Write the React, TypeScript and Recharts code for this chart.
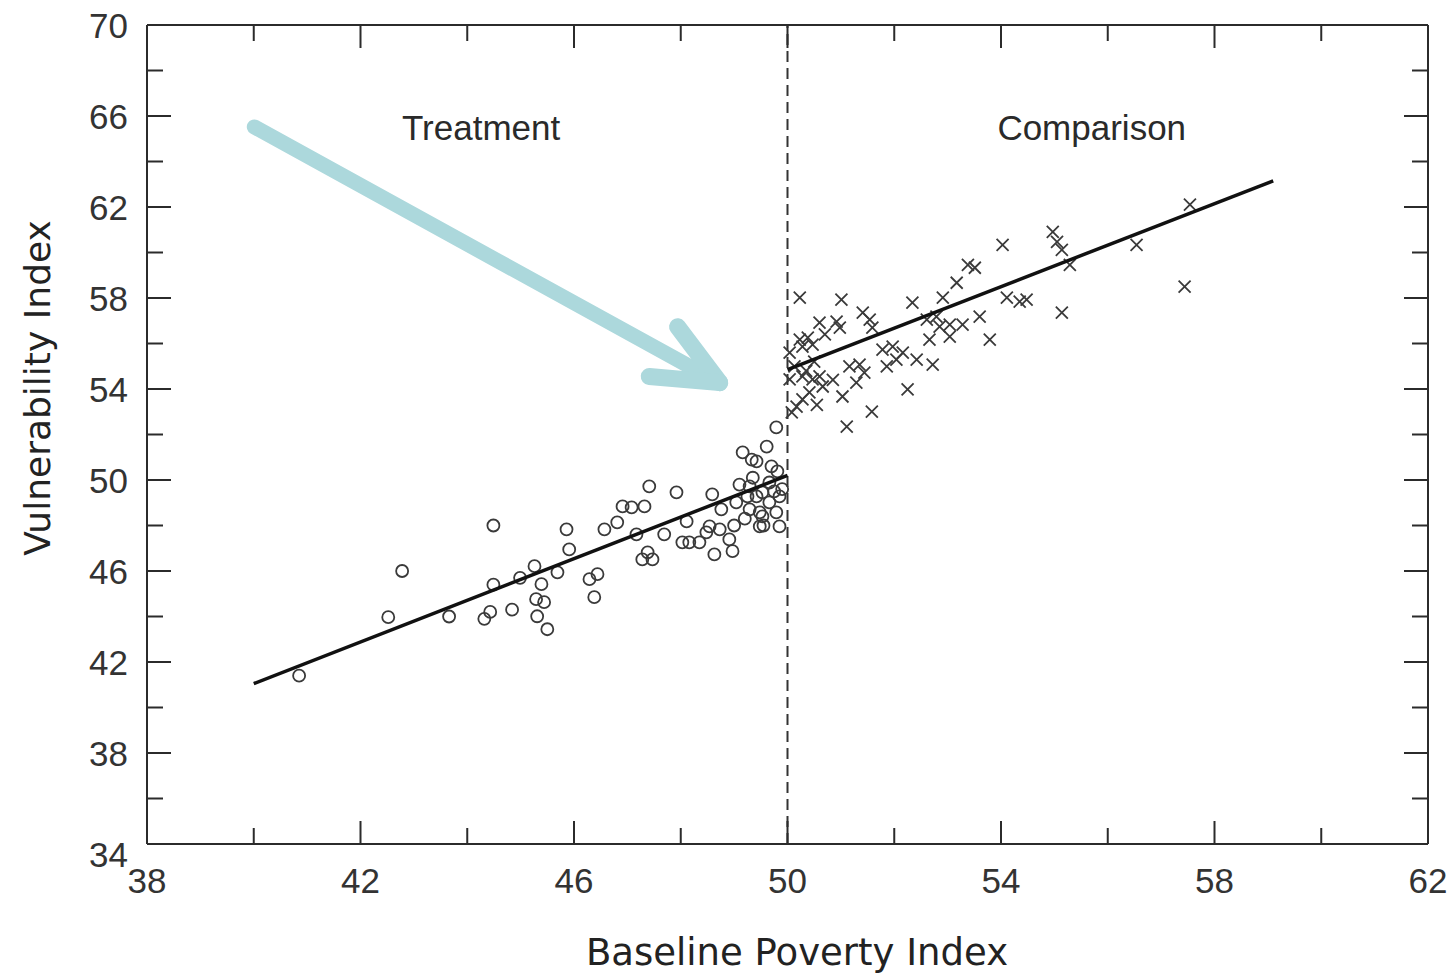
import React from 'react'
import {
  ScatterChart,
  Scatter,
  XAxis,
  YAxis,
  ReferenceLine,
  ReferenceDot,
} from 'recharts'

// tick values (labels every 4, minor ticks every 2)
const xTicks = [38, 40, 42, 44, 46, 48, 50, 52, 54, 56, 58, 60, 62]
const yTicks = [34, 36, 38, 40, 42, 44, 46, 48, 50, 52, 54, 56, 58, 60, 62, 64, 66, 68, 70]

const cutoff = 50

// treatment group (circles)
const treatmentX = [
  40.85, 42.52, 42.78, 43.66, 44.49, 44.49, 44.32, 44.43, 44.84, 44.99, 45.26, 45.39, 45.29, 45.44,
  45.31, 45.5, 45.69, 45.86, 45.91, 46.29, 46.44, 46.38, 46.57, 46.81, 46.91, 47.08, 47.32, 47.41,
  47.17, 47.28, 47.47, 47.38, 47.69, 47.92, 48.03, 48.16, 48.35, 48.11, 48.48, 48.54, 48.59, 48.63,
  48.76, 48.73, 48.97, 48.91, 49.04, 49.16, 49.33, 49.42, 49.61, 49.79, 49.29, 49.42, 49.53, 49.66,
  49.81, 49.29, 49.48, 49.66, 49.85, 49.79, 49.48, 49.85, 49.53, 49.25,
  49.1, 49.35, 49.7, 49.55, 49.2, 49.9, 49.0, 49.75,
]
const treatmentY = [
  41.4, 43.97, 46.0, 44.0, 48.0, 45.4, 43.9, 44.2, 44.3, 45.7, 46.21, 45.42, 44.76, 44.63,
  44.01, 43.44, 45.94, 47.83, 46.95, 45.64, 45.86, 44.85, 47.83, 48.14, 48.84, 48.8, 48.84, 49.72,
  47.61, 46.51, 46.51, 46.82, 47.61, 49.46, 47.26, 47.26, 47.26, 48.18, 47.7, 47.96, 49.37, 46.73,
  48.71, 47.83, 46.87, 47.39, 49.02, 51.21, 50.9, 50.82, 51.47, 52.31, 49.72, 49.28, 49.46, 49.89,
  50.38, 48.71, 48.58, 49.02, 49.28, 48.58, 47.96, 47.96, 48.4, 49.28,
  49.8, 50.1, 50.6, 48.0, 48.3, 49.6, 48.0, 49.5,
]

// comparison group (crosses)
const comparisonX = [
  50.23, 51.01, 50.6, 50.92, 50.98, 51.41, 51.54, 51.59, 50.23, 50.38, 50.28, 50.47, 50.04, 50.13,
  50.04, 50.28, 50.47, 50.6, 50.66, 50.41, 50.17, 50.28, 50.08, 51.16, 51.35, 51.44, 51.29, 51.03,
  51.58, 51.11, 51.78, 51.97, 52.04, 52.16, 51.86, 52.42, 52.72, 52.25, 52.34, 52.61, 52.79, 52.91,
  52.85, 53.04, 53.17, 53.28, 53.6, 53.79, 54.11, 54.35, 52.66, 53.04, 54.03, 54.97, 55.05, 55.14,
  55.29, 56.54, 57.54, 57.44, 54.48, 55.14, 53.38, 53.51,
  50.5, 50.7, 50.35, 50.55, 50.85,
]
const comparisonY = [
  58.02, 57.93, 56.92, 56.96, 56.7, 57.36, 57.05, 56.7, 56.17, 56.26, 55.86, 55.95, 55.6, 54.99,
  54.42, 54.55, 54.42, 54.55, 54.11, 53.85, 53.23, 53.54, 52.97, 54.99, 55.07, 54.72, 54.28, 53.67,
  53.01, 52.35, 55.73, 55.86, 55.29, 55.6, 54.99, 55.29, 55.07, 53.98, 57.8, 57.05, 57.18, 58.02,
  56.74, 56.83, 58.67, 56.83, 57.18, 56.17, 58.02, 57.84, 56.17, 56.3, 60.34, 60.91, 60.47, 60.12,
  59.46, 60.34, 62.1, 58.5, 57.93, 57.36, 59.46, 59.33,
  55.2, 56.4, 54.8, 53.3, 54.4,
]

// fitted lines on each side of the cutoff
const treatmentFitX = [40, 50]
const treatmentFitY = [41.05, 50.2]
const comparisonFitX = [50, 59.1]
const comparisonFitY = [54.85, 63.15]

const treatment = treatmentX.map((x, i) => ({ x, y: treatmentY[i] }))
const comparison = comparisonX.map((x, i) => ({ x, y: comparisonY[i] }))
const treatmentFit = treatmentFitX.map((x, i) => ({ x, y: treatmentFitY[i] }))
const comparisonFit = comparisonFitX.map((x, i) => ({ x, y: comparisonFitY[i] }))

// plot box, in page pixels
const PL = 147
const PR = 1428
const PT = 25
const PB = 844
const AXIS = '#2b2b2b'
const TICK_FONT = '"Liberation Sans", Arial, sans-serif'
const TITLE_FONT = '"DejaVu Sans", Verdana, sans-serif'
const ARROW = '#acd8dc'

const XTick = (props: any) => {
  const { x, payload } = props
  const v = payload.value
  const major = (v - 38) % 4 === 0
  const len = major ? 23 : 16
  const edge = v === 38 || v === 62
  return (
    <g>
      {!edge && <line x1={x} x2={x} y1={PB} y2={PB - len} stroke={AXIS} strokeWidth={2} />}
      {!edge && <line x1={x} x2={x} y1={PT} y2={PT + len} stroke={AXIS} strokeWidth={2} />}
      {major && (
        <text x={x} y={PB + 49} textAnchor="middle" fontFamily={TICK_FONT} fontSize={35} fill="#333">
          {v}
        </text>
      )}
    </g>
  )
}

const YTick = (props: any) => {
  const { y, payload } = props
  const v = payload.value
  const major = (v - 34) % 4 === 0
  const len = major ? 24 : 16
  const edge = v === 34 || v === 70
  const shift = v === 34 ? 10 : 0
  return (
    <g>
      {!edge && <line x1={PL} x2={PL + len} y1={y} y2={y} stroke={AXIS} strokeWidth={2} />}
      {!edge && <line x1={PR} x2={PR - len} y1={y} y2={y} stroke={AXIS} strokeWidth={2} />}
      {major && (
        <text x={PL - 19} y={y + 12.5 + shift} textAnchor="end" fontFamily={TICK_FONT} fontSize={35} fill="#333">
          {v}
        </text>
      )}
    </g>
  )
}

const Circle = (props: any) => (
  <circle cx={props.cx} cy={props.cy} r={6} fill="none" stroke="#3a3a3a" strokeWidth={1.8} />
)

const Cross = (props: any) => {
  const { cx, cy } = props
  const s = 6
  return (
    <path
      d={`M${cx - s},${cy - s}L${cx + s},${cy + s}M${cx - s},${cy + s}L${cx + s},${cy - s}`}
      stroke="#3a3a3a"
      strokeWidth={1.8}
      fill="none"
    />
  )
}

const Nothing = () => <g />

const groupLabel = (text: string) => (props: any) => (
  <text
    x={props.cx}
    y={props.cy}
    dy="0.36em"
    textAnchor="middle"
    fontFamily={TICK_FONT}
    fontSize={35}
    fill="#2a2a2a"
  >
    {text}
  </text>
)

export default function App() {
  return (
    <div style={{ width: 1452, height: 973, background: '#fff' }}>
      <style>{'body{margin:0;overflow:hidden;background:#fff}'}</style>
      <ScatterChart
        width={1452}
        height={973}
        margin={{ top: PT, right: 1452 - PR, bottom: 0, left: 0 }}
      >
        <XAxis
          type="number"
          dataKey="x"
          domain={[38, 62]}
          ticks={xTicks}
          interval={0}
          tick={<XTick />}
          tickLine={false}
          tickSize={0}
          axisLine={{ stroke: AXIS, strokeWidth: 2 }}
          height={973 - PB}
          label={{
            content: () => (
              <text x={797} y={965} textAnchor="middle" fontFamily={TITLE_FONT} fontSize={37} fill="#222">
                Baseline Poverty Index
              </text>
            ),
          }}
        />
        <YAxis
          type="number"
          dataKey="y"
          domain={[34, 70]}
          ticks={yTicks}
          interval={0}
          tick={<YTick />}
          tickLine={false}
          tickSize={0}
          axisLine={{ stroke: AXIS, strokeWidth: 2 }}
          width={PL}
          label={{
            content: () => (
              <text
                transform="translate(50,388) rotate(-90)"
                textAnchor="middle"
                fontFamily={TITLE_FONT}
                fontSize={36}
                fill="#222"
              >
                Vulnerability Index
              </text>
            ),
          }}
        />
        <ReferenceLine y={70} stroke={AXIS} strokeWidth={2} />
        <ReferenceLine x={62} stroke={AXIS} strokeWidth={2} />
        <ReferenceLine x={cutoff} stroke="#333" strokeWidth={2} strokeDasharray="11 6" />

        {/* arrow pointing at the jump */}
        <ReferenceLine
          segment={[{ x: 40.01, y: 65.52 }, { x: 48.7, y: 54.3 }]}
          stroke={ARROW}
          strokeWidth={15}
          strokeLinecap="round"
          ifOverflow="visible"
        />
        <ReferenceLine
          segment={[{ x: 47.94, y: 56.74 }, { x: 48.73, y: 54.28 }]}
          stroke={ARROW}
          strokeWidth={17}
          strokeLinecap="round"
          ifOverflow="visible"
        />
        <ReferenceLine
          segment={[{ x: 47.41, y: 54.55 }, { x: 48.73, y: 54.28 }]}
          stroke={ARROW}
          strokeWidth={17}
          strokeLinecap="round"
          ifOverflow="visible"
        />

        <ReferenceDot x={44.26} y={65.52} r={0} shape={groupLabel('Treatment')} />
        <ReferenceDot x={55.7} y={65.52} r={0} shape={groupLabel('Comparison')} />

        <Scatter data={treatment} shape={<Circle />} isAnimationActive={false} />
        <Scatter data={comparison} shape={<Cross />} isAnimationActive={false} />
        <Scatter
          data={treatmentFit}
          line={{ stroke: '#111', strokeWidth: 3.5 }}
          shape={<Nothing />}
          isAnimationActive={false}
        />
        <Scatter
          data={comparisonFit}
          line={{ stroke: '#111', strokeWidth: 3.5 }}
          shape={<Nothing />}
          isAnimationActive={false}
        />
      </ScatterChart>
    </div>
  )
}
